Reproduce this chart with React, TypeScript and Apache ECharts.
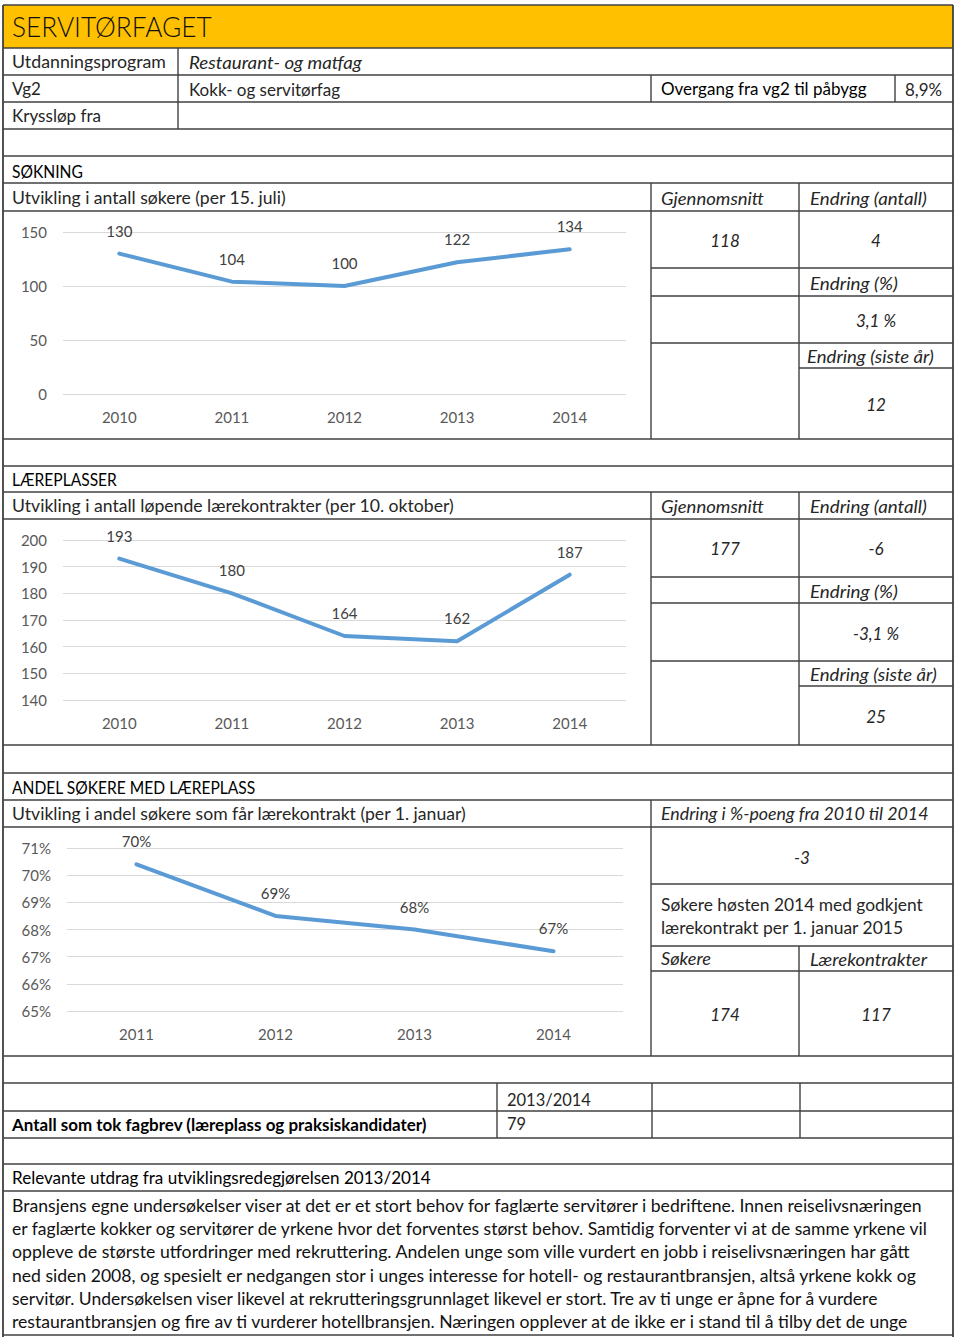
import React, { useEffect, useRef } from "react";
import * as echarts from "echarts";

// ---------- data ----------
const yearsApplicants = ["2010", "2011", "2012", "2013", "2014"];
const applicants = [130, 104, 100, 122, 134];
const yearsContracts = ["2010", "2011", "2012", "2013", "2014"];
const contracts = [193, 180, 164, 162, 187];
const yearsShare = ["2011", "2012", "2013", "2014"];
const shareWithContract = [70.4, 68.5, 68.0, 67.2];

const paragraphLines = [
  "Bransjens egne undersøkelser viser at det er et stort behov for faglærte servitører i bedriftene. Innen reiselivsnæringen",
  "er faglærte kokker og servitører de yrkene hvor det forventes størst behov. Samtidig forventer vi at de samme yrkene vil",
  "oppleve de største utfordringer med rekruttering. Andelen unge som ville vurdert en jobb i reiselivsnæringen har gått",
  "ned siden 2008, og spesielt er nedgangen stor i unges interesse for hotell- og restaurantbransjen, altså yrkene kokk og",
  "servitør. Undersøkelsen viser likevel at rekrutteringsgrunnlaget likevel er stort. Tre av ti unge er åpne for å vurdere",
  "restaurantbransjen og fire av ti vurderer hotellbransjen. Næringen opplever at de ikke er i stand til å tilby det de unge",
];
const paragraphWidths = [913, 919, 900, 905, 869, 899];

const FONT = "Lato";
const LINE = "#404040";

export default function App() {
  const ref = useRef<HTMLDivElement>(null);
  useEffect(() => {
    if (!ref.current) return;
    const canvas = document.createElement("canvas");
    const ctx = canvas.getContext("2d")!;
    const measure = (text: string, font: string) => {
      ctx.font = font;
      return ctx.measureText(text).width;
    };
    const T = (
      text: string,
      x: number,
      y: number,
      o: { size?: number; italic?: boolean; weight?: number; align?: string; w?: number; color?: string } = {}
    ) => {
      const size = o.size ?? 17;
      const fs = o.italic ? "italic" : "normal";
      const weight = o.weight ?? 400;
      const align = o.align ?? "left";
      let scaleX = 1;
      if (o.w) {
        const m = measure(text, `${fs} ${weight} ${size}px ${FONT}`);
        if (m > 0) scaleX = o.w / m;
      }
      return {
        type: "text",
        x,
        y,
        scaleX,
        silent: true,
        style: {
          text,
          x: 0,
          y: 0,
          fill: o.color ?? "#262626",
          fontSize: size,
          fontFamily: FONT,
          fontStyle: fs,
          fontWeight: weight,
          align,
          verticalAlign: "middle",
          textAlign: align,
          textVerticalAlign: "middle",
        },
      };
    };
    const H = (x1: number, x2: number, y: number, w = 1.4) => ({
      type: "line",
      silent: true,
      shape: { x1, y1: y, x2, y2: y },
      style: { stroke: LINE, lineWidth: w },
    });
    const V = (x: number, y1: number, y2: number, w = 1.4) => ({
      type: "line",
      silent: true,
      shape: { x1: x, y1, x2: x, y2 },
      style: { stroke: LINE, lineWidth: w },
    });

    const L = 3;
    const R = 953;
    const graphics: any[] = [];
    graphics.push({
      type: "rect",
      silent: true,
      shape: { x: L, y: 5, width: R - L, height: 43 },
      style: { fill: "#FFC000" },
    });
    // outer frame
    graphics.push(H(L, R, 5, 1.6), V(L, 5, 1337, 1.8), V(R, 5, 1337, 1.8));
    // full-width rows
    [48, 75, 102, 129, 156, 183, 211, 439, 466, 492, 519, 745, 773, 800, 827, 1056, 1083, 1111, 1138, 1164, 1191, 1335].forEach(
      (y) => graphics.push(H(L, R, y))
    );
    // top table
    graphics.push(V(178, 48, 129), V(651, 75, 102), V(895, 75, 102));
    // søkning block
    graphics.push(V(651, 183, 439), V(799, 183, 439));
    [268, 296, 343].forEach((y) => graphics.push(H(651, R, y)));
    graphics.push(H(799, R, 368));
    // læreplasser block
    graphics.push(V(651, 492, 745), V(799, 492, 745));
    [577, 603, 661].forEach((y) => graphics.push(H(651, R, y)));
    graphics.push(H(799, R, 686));
    // andel block
    graphics.push(V(651, 800, 1056), V(799, 946, 1056));
    [884, 946, 971].forEach((y) => graphics.push(H(651, R, y)));
    // fagbrev block
    graphics.push(V(497, 1083, 1138), V(652, 1083, 1138), V(800, 1083, 1138));

    const HEAD = { weight: 400, color: "#000000" };
    // texts
    graphics.push(
      T("SERVITØRFAGET", 12, 26, { size: 28, w: 200, weight: 300, color: "#111111" }),
      T("Utdanningsprogram", 12, 62, { w: 154 }),
      T("Restaurant- og matfag", 189, 62, { italic: true, w: 173 }),
      T("Vg2", 12, 89, { w: 29 }),
      T("Kokk- og servitørfag", 189, 89, { w: 151 }),
      T("Overgang fra vg2 til påbygg", 661, 89, { w: 206, ...HEAD }),
      T("8,9%", 905, 89, { w: 37 }),
      T("Kryssløp fra", 12, 116, { w: 89 }),

      T("SØKNING", 12, 171, { w: 71, ...HEAD }),
      T("Utvikling i antall søkere (per 15. juli)", 12, 198, { w: 274 }),
      T("Gjennomsnitt", 661, 198, { italic: true, w: 103 }),
      T("Endring (antall)", 810, 198, { italic: true, w: 117 }),
      T("118", 725, 240, { italic: true, align: "center" }),
      T("4", 876, 240, { italic: true, align: "center" }),
      T("Endring (%)", 810, 283, { italic: true, w: 88 }),
      T("3,1 %", 876, 320, { italic: true, align: "center" }),
      T("Endring (siste år)", 807, 356, { italic: true, w: 127 }),
      T("12", 876, 404, { italic: true, align: "center" }),

      T("LÆREPLASSER", 12, 479, { w: 105, ...HEAD }),
      T("Utvikling i antall løpende lærekontrakter (per 10. oktober)", 12, 506, { w: 443 }),
      T("Gjennomsnitt", 661, 506, { italic: true, w: 103 }),
      T("Endring (antall)", 810, 506, { italic: true, w: 117 }),
      T("177", 725, 548, { italic: true, align: "center" }),
      T("-6", 876, 548, { italic: true, align: "center" }),
      T("Endring (%)", 810, 591, { italic: true, w: 88 }),
      T("-3,1 %", 876, 633, { italic: true, align: "center" }),
      T("Endring (siste år)", 810, 674, { italic: true, w: 127 }),
      T("25", 876, 716, { italic: true, align: "center" }),

      T("ANDEL SØKERE MED LÆREPLASS", 12, 787, { w: 244, ...HEAD }),
      T("Utvikling i andel søkere som får lærekontrakt (per 1. januar)", 12, 814, { w: 455 }),
      T("Endring i %-poeng fra 2010 til 2014", 661, 814, { italic: true, w: 268 }),
      T("-3", 802, 857, { italic: true, align: "center" }),
      T("Søkere høsten 2014 med godkjent", 661, 905, { w: 262 }),
      T("lærekontrakt per 1. januar 2015", 661, 928, { w: 243 }),
      T("Søkere", 661, 959, { italic: true, w: 50 }),
      T("Lærekontrakter", 810, 959, { italic: true, w: 117 }),
      T("174", 725, 1014, { italic: true, align: "center" }),
      T("117", 876, 1014, { italic: true, align: "center" }),

      T("2013/2014", 507, 1099, { w: 84 }),
      T("Antall som tok fagbrev (læreplass og praksiskandidater)", 12, 1124, { w: 415, weight: 700, color: "#000000" }),
      T("79", 507, 1124, { w: 19 }),
      T("Relevante utdrag fra utviklingsredegjørelsen 2013/2014", 12, 1178, { w: 419, ...HEAD })
    );
    paragraphLines.forEach((line, i) =>
      graphics.push(T(line, 12, 1205.7 + i * 23.2, { w: paragraphWidths[i], color: "#111111" }))
    );

    const axisLabel = { color: "#595959", fontSize: 15, fontFamily: FONT, fontWeight: 400 };
    const splitLine = { show: true, lineStyle: { color: "#D9D9D9", width: 1 } };
    const mkX = (gridIndex: number, data: string[]) => ({
      type: "category",
      gridIndex,
      data,
      boundaryGap: true,
      axisLine: { show: false },
      axisTick: { show: false },
      axisLabel: { ...axisLabel, margin: 15 },
    });
    const mkY = (gridIndex: number, min: number, max: number, interval: number, suffix = "") => ({
      type: "value",
      gridIndex,
      min,
      max,
      interval,
      axisLine: { show: false },
      axisTick: { show: false },
      splitLine,
      axisLabel: { ...axisLabel, margin: 16, formatter: (v: number) => `${v}${suffix}` },
    });
    const mkS = (idx: number, data: number[], fmt?: (p: any) => string) => ({
      type: "line",
      xAxisIndex: idx,
      yAxisIndex: idx,
      data,
      symbol: "circle",
      symbolSize: 1,
      showSymbol: true,
      itemStyle: { color: "#5B9BD5" },
      lineStyle: { color: "#5B9BD5", width: 4, cap: "round", join: "round" },
      label: {
        show: true,
        position: "top",
        distance: 15,
        color: "#404040",
        fontSize: 15,
        fontFamily: FONT,
        fontWeight: 400,
        formatter: fmt ?? ((p: any) => `${p.value}`),
      },
    });

    const chart = echarts.init(ref.current, null, { renderer: "svg" });
    chart.setOption({
      animation: false,
      textStyle: { fontFamily: FONT },
      grid: [
        { left: 63, top: 232, width: 563, height: 162 },
        { left: 63, top: 540, width: 563, height: 160 },
        { left: 67, top: 848, width: 556, height: 163 },
      ],
      xAxis: [mkX(0, yearsApplicants), mkX(1, yearsContracts), mkX(2, yearsShare)],
      yAxis: [mkY(0, 0, 150, 50), mkY(1, 140, 200, 10), mkY(2, 65, 71, 1, "%")],
      series: [
        mkS(0, applicants),
        mkS(1, contracts),
        mkS(2, shareWithContract, (p: any) => `${Math.round(p.value)}%`),
      ],
      graphic: { elements: graphics },
    });
    return () => chart.dispose();
  }, []);
  return (
    <div
      ref={ref}
      style={{ position: "absolute", left: 0, top: 0, width: 960, height: 1337, background: "#fff" }}
    />
  );
}
